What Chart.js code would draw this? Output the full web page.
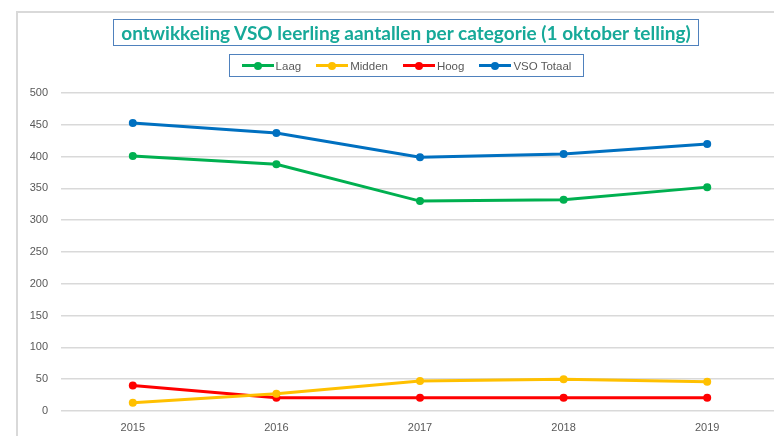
<!DOCTYPE html>
<html>
<head>
<meta charset="utf-8">
<script src="https://cdn.jsdelivr.net/npm/chart.js@4"></script>
<style>
html,body{margin:0;padding:0;background:#fff;overflow:hidden;}
#wrap{position:relative;width:774px;height:436px;overflow:hidden;}
#frame{position:absolute;left:16px;top:11px;width:800px;height:500px;border-left:2px solid #d9d9d9;border-top:2px solid #d9d9d9;}
#title{position:absolute;left:113px;top:19px;width:584px;height:25px;border:1.5px solid #4f81bd;
  font-family:Lato,"Liberation Sans",sans-serif;font-weight:bold;font-size:19px;color:#17a999;
  text-align:center;line-height:25px;white-space:nowrap;}
#legend{position:absolute;left:229px;top:54px;width:353px;height:21px;border:1.5px solid #4f81bd;
  font-family:"Liberation Sans",sans-serif;font-size:11.5px;color:#595959;display:flex;justify-content:center;align-items:center;gap:15px;}
.item{display:flex;align-items:center;}
.mk{position:relative;width:32px;height:9px;margin-right:2px;}
.mk .ln{position:absolute;left:0;right:0;top:3px;height:3px;}
.mk .dt{position:absolute;left:12px;top:0.5px;width:8px;height:8px;border-radius:50%;}
#cv{position:absolute;left:0;top:0;}
</style>
</head>
<body>
<div id="wrap">
<div id="frame"></div>
<canvas id="cv" width="783" height="436" style="width:783px;height:436px"></canvas>
<div id="title">ontwikkeling VSO leerling aantallen per categorie (1 oktober telling)</div>
<div id="legend"></div>
</div>
<script>
let years=["2015","2016","2017","2018","2019"];

let laag=[401,388,330,332,352];
let midden=[13,27,47,50,46];
let hoog=[40,21,21,21,21];
let totaal=[453,437,399,404,420];

let names=["Laag","Midden","Hoog","VSO Totaal"];
let colors=["#00b050","#ffc000","#ff0000","#0070c0"];
let series=[laag,midden,hoog,totaal];


let leg=document.getElementById("legend");
names.forEach((n,k)=>{
  let it=document.createElement("div");
  it.className="item";
  it.innerHTML='<div class="mk"><div class="ln" style="background:'+colors[k]+'"></div><div class="dt" style="background:'+colors[k]+'"></div></div>'+n;
  leg.appendChild(it);
});


new Chart(document.getElementById("cv"),{
  type:"line",
  data:{
    labels:years,
    datasets:series.map((s,k)=>({
      label:names[k],
      data:s,
      borderColor:colors[k],
      backgroundColor:colors[k],
      borderWidth:3,
      pointRadius:4,
      pointBorderWidth:0,
      pointHoverRadius:4,
      tension:0
    }))
  },
  options:{
    responsive:false,
    animation:false,
    layout:{padding:{top:93,left:0,right:0,bottom:0}},
    plugins:{legend:{display:false},title:{display:false},tooltip:{enabled:false}},
    scales:{
      x:{
        offset:true,
        grid:{display:false},
        border:{display:false},
        ticks:{color:"#595959",font:{family:"Liberation Sans",size:11},padding:2},
        afterFit:(s)=>{s.height=25;}
      },
      y:{
        min:0,max:500,
        ticks:{stepSize:50,color:"#595959",font:{family:"Liberation Sans",size:11},padding:13},
        grid:{color:"#d9d9d9",lineWidth:1.5,drawTicks:false},
        border:{display:false},
        afterFit:(s)=>{s.width=61;}
      }
    }
  }
});
</script>
</body>
</html>
